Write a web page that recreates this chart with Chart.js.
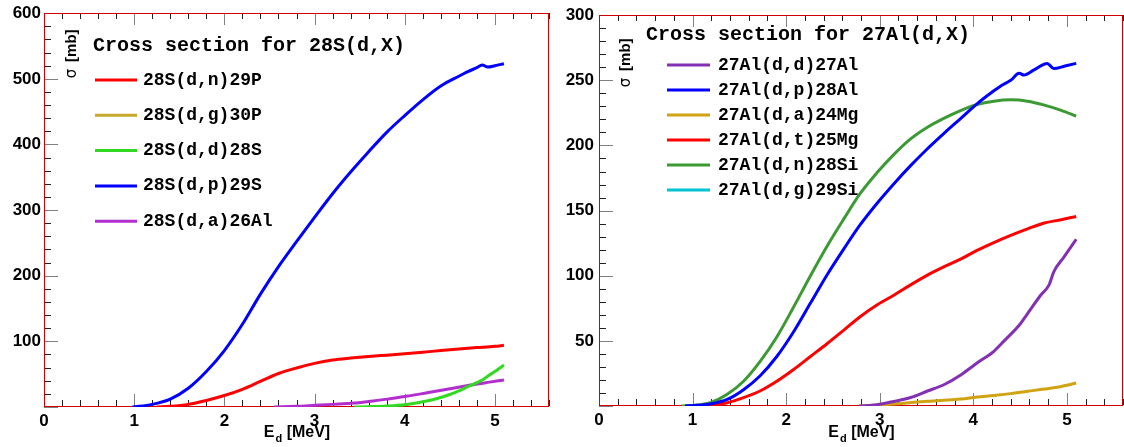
<!DOCTYPE html>
<html>
<head>
<meta charset="utf-8">
<script src="https://cdn.jsdelivr.net/npm/chart.js@4.4.1/dist/chart.umd.min.js"></script>
<style>
  html, body { margin: 0; padding: 0; background: #ffffff; }
  #wrap { position: relative; width: 1124px; height: 447px; overflow: hidden; }
  #c1 { position: absolute; left: 0; top: 0; }
  #c2 { position: absolute; left: 556px; top: 0; }
</style>
</head>
<body>
<div id="wrap">
  <canvas id="c1" width="556" height="447"></canvas>
  <canvas id="c2" width="568" height="447"></canvas>
</div>
<script>
// ---------- shared axis data ----------
const xTickValues = [0, 1, 2, 3, 4, 5];          // E_d [MeV]
const E_MIN = 0, E_MAX = 5.6;

// ---------- 28S + d ----------
const s28Title  = 'Cross section for 28S(d,X)';
const s28Labels = ['28S(d,n)29P', '28S(d,g)30P', '28S(d,d)28S', '28S(d,p)29S', '28S(d,a)26Al'];
const s28Colors = ['#ff0000', '#c6a82a', '#33d822', '#0000ff', '#b22ecf'];
const s28YTicks = [100, 200, 300, 400, 500, 600];

const s28_dn_E   = [1.25, 1.4, 1.6, 1.8, 2.0, 2.2, 2.4, 2.6, 2.8, 3.0, 3.2, 3.4, 3.6, 3.8, 4.0, 4.2, 4.4, 4.6, 4.8, 5.0, 5.1];
const s28_dn_sig = [0, 1, 4, 10, 17.5, 27, 39, 51, 59.5, 66.5, 71.5, 74.5, 77, 79, 81, 83.5, 86, 88.5, 90.5, 92.5, 94];

const s28_dg_E   = [];
const s28_dg_sig = [];

const s28_dd_E   = [3.44, 3.6, 3.8, 4.0, 4.2, 4.36, 4.5, 4.6, 4.7, 4.8, 4.86, 4.92, 5.0, 5.1];
const s28_dd_sig = [0, 0.5, 1.5, 3.5, 8, 13, 19, 24.5, 31, 37, 41, 47, 54, 64];

const s28_dp_E   = [0.98, 1.2, 1.4, 1.6, 1.8, 2.0, 2.2, 2.4, 2.6, 2.8, 3.0, 3.2, 3.4, 3.6, 3.8, 4.0, 4.2, 4.4, 4.6, 4.7, 4.8, 4.86, 4.92, 5.0, 5.1];
const s28_dp_sig = [0, 4, 12, 28.5, 54, 86, 126, 172, 214, 252, 289, 325, 358, 389, 418.5, 444, 468, 489, 504, 511, 517, 521, 518, 520, 523];

const s28_da_E   = [2.55, 2.8, 3.0, 3.2, 3.44, 3.6, 3.81, 4.0, 4.18, 4.36, 4.55, 4.73, 4.92, 5.1];
const s28_da_sig = [0, 1, 2.5, 4, 6, 8.5, 12, 16, 20, 24.5, 29, 33.5, 37.5, 41];

// ---------- 27Al + d ----------
const al27Title  = 'Cross section for 27Al(d,X)';
const al27Labels = ['27Al(d,d)27Al', '27Al(d,p)28Al', '27Al(d,a)24Mg', '27Al(d,t)25Mg', '27Al(d,n)28Si', '27Al(d,g)29Si'];
const al27Colors = ['#8430b4', '#0000ff', '#cfa312', '#ff0000', '#3c9a34', '#00c4d0'];
const al27YTicks = [50, 100, 150, 200, 250, 300];

const al_dd_E   = [2.78, 2.97, 3.15, 3.33, 3.51, 3.69, 3.87, 4.04, 4.22, 4.33, 4.49, 4.58, 4.72, 4.81, 4.86, 4.97, 5.1];
const al_dd_sig = [0, 1, 3.5, 6.5, 11.5, 16.5, 24, 33, 42, 50, 62, 71, 85, 93, 103, 114.5, 128];

const al_dp_E   = [0.92, 1.05, 1.19, 1.37, 1.545, 1.72, 1.9, 2.08, 2.26, 2.44, 2.62, 2.79, 2.97, 3.15, 3.33, 3.51, 3.69, 3.87, 4.04, 4.22, 4.29, 4.4, 4.49, 4.54, 4.65, 4.79, 4.86, 4.98, 5.1];
const al_dp_sig = [0, 0.5, 1.5, 5, 12.5, 23, 38, 57, 79, 101, 121, 139, 155.5, 170.5, 184.5, 197.5, 209.5, 221, 232, 242, 245.5, 250, 255.5, 254, 258, 263, 259, 261, 263];

const al_da_E   = [2.78, 3.15, 3.51, 3.87, 4.04, 4.22, 4.4, 4.58, 4.76, 4.94, 5.1];
const al_da_sig = [0, 1.5, 3.6, 5.3, 6.9, 8, 9.5, 11.3, 13, 15, 17.6];

const al_dt_E   = [1.0, 1.2, 1.37, 1.545, 1.72, 1.9, 2.08, 2.26, 2.44, 2.62, 2.79, 2.97, 3.15, 3.33, 3.51, 3.69, 3.87, 4.04, 4.22, 4.4, 4.58, 4.76, 4.94, 5.1];
const al_dt_sig = [0, 1, 2.5, 6.4, 11.5, 19, 28, 38, 48, 58.5, 68.5, 77.5, 85, 93, 100.5, 107, 113, 119.5, 125.5, 131, 136, 140.5, 143, 145.5];

const al_dn_E   = [0.88, 1.05, 1.19, 1.37, 1.545, 1.72, 1.9, 2.08, 2.26, 2.44, 2.62, 2.79, 2.97, 3.15, 3.33, 3.51, 3.69, 3.87, 4.04, 4.22, 4.4, 4.58, 4.76, 4.94, 5.1];
const al_dn_sig = [0, 0.8, 2.5, 9, 19, 34, 53, 76, 100, 123, 144, 163, 179, 193, 205, 214, 221, 227, 231.5, 234, 235, 234, 231, 227, 222.5];

const al_dg_E   = [];
const al_dg_sig = [];

// ---------- helpers ----------
function pairs(xs, ys) { return xs.map((x, i) => ({ x: x, y: ys[i] })); }

function makeDatasets(labels, colors, series) {
  return labels.map((lab, i) => ({
    label: lab,
    data: pairs(series[i][0], series[i][1]),
    borderColor: colors[i],
    backgroundColor: colors[i],
    borderWidth: 3,
    pointRadius: 0,
    pointHoverRadius: 0,
    fill: false,
    cubicInterpolationMode: 'monotone',
    borderCapStyle: 'butt'
  }));
}

// ROOT-style decoration: inward ticks (bottom/top/left), thin frame, legend box and axis titles
function rootDecor(o) {
  function drawTicks(chart) {
    const ctx = chart.ctx, a = chart.chartArea;
    const xs = chart.scales.x, ys = chart.scales.y;
    const L = Math.round(a.left), T = Math.round(a.top), B = Math.round(a.bottom) - 1;
    ctx.save();
    const nx = Math.round((E_MAX - E_MIN) / o.xMinor);
    for (let i = 0; i <= nx; i++) {
      const v = E_MIN + i * o.xMinor;
      const major = Math.abs(v - Math.round(v)) < 1e-6;
      const px = Math.round(xs.getPixelForValue(v));
      const len = major ? o.xMajorLen : o.xMinorLen;
      ctx.fillStyle = major ? o.majorColor : o.minorColor;
      ctx.fillRect(px, B - len, 1, len);
      ctx.fillRect(px, T, 1, len);
    }
    const ny = Math.round(o.yMax / o.yMinor);
    for (let i = 0; i <= ny; i++) {
      const v = i * o.yMinor;
      const major = Math.abs(v / o.yMajor - Math.round(v / o.yMajor)) < 1e-6;
      const py = Math.round(ys.getPixelForValue(v));
      const len = major ? o.yMajorLen : o.yMinorLen;
      ctx.fillStyle = major ? o.majorColor : o.minorColor;
      ctx.fillRect(L, py, len, 1);
    }
    ctx.restore();
  }
  function drawFrame(chart) {
    const ctx = chart.ctx, a = chart.chartArea;
    const L = Math.round(a.left), R = Math.round(a.right) - 1;
    const T = Math.round(a.top), B = Math.round(a.bottom) - 1;
    ctx.save();
    ctx.fillStyle = o.frameColor;
    ctx.fillRect(L, T, R - L + 1, 1);
    ctx.fillRect(L, B, R - L + 1, 1);
    ctx.fillRect(L, T, 1, B - T + 1);
    ctx.fillRect(R, T, 1, B - T + 1);
    ctx.restore();
  }
  return {
    id: 'rootDecor',
    beforeDatasetsDraw(chart) {
      drawTicks(chart);
      drawFrame(chart);
    },
    afterDraw(chart) {
      const ctx = chart.ctx, a = chart.chartArea;
      ctx.save();
      ctx.fillStyle = '#000';
      ctx.textAlign = 'left';
      ctx.textBaseline = 'middle';
      // legend
      ctx.font = o.titleFont;
      ctx.fillText(o.title, o.titleX, o.titleY);
      chart.data.datasets.forEach((ds, i) => {
        const y = o.rowY0 + i * o.rowGap;
        ctx.strokeStyle = ds.borderColor;
        ctx.lineWidth = 3;
        ctx.beginPath();
        ctx.moveTo(o.lineX0, y); ctx.lineTo(o.lineX1, y);
        ctx.stroke();
        ctx.font = o.entryFont;
        ctx.fillText(ds.label, o.textX, y);
      });
      // x title: E_d [MeV]
      ctx.textBaseline = 'alphabetic';
      const big = 'bold 16px "Liberation Sans", Arial, sans-serif';
      const small = 'bold 11px "Liberation Sans", Arial, sans-serif';
      ctx.font = big;   const wE = ctx.measureText('E').width;
      ctx.font = small; const wd = ctx.measureText('d').width;
      ctx.font = big;   const wU = ctx.measureText(' [MeV]').width;
      const x0 = (a.left + a.right) / 2 - (wE + wd + wU) / 2;
      ctx.fillText('E', x0, o.xTitleY);
      ctx.font = small; ctx.fillText('d', x0 + wE + 1, o.xTitleY + 5);
      ctx.font = big;   ctx.fillText(' [MeV]', x0 + wE + wd + 1, o.xTitleY);
      // y title: σ [mb], rotated, inside the frame
      ctx.translate(a.left + o.yTitleDX, a.top + o.yTitleDY);
      ctx.rotate(-Math.PI / 2);
      ctx.font = '15px "DejaVu Sans", sans-serif';
      ctx.fillText('σ', 0, 0);
      const ws = ctx.measureText('σ ').width;
      ctx.font = 'bold 15px "Liberation Sans", Arial, sans-serif';
      ctx.fillText('[mb]', ws + 2, 0);
      ctx.restore();
    }
  };
}

function makeChart(canvasId, datasets, yMax, yTicks, yAxisWidth, xAxisHeight, padRight, labelPad, decor) {
  const tickFont = { family: '"Liberation Sans", Arial, sans-serif', size: 17, weight: 'bold' };
  return new Chart(document.getElementById(canvasId), {
    type: 'line',
    data: { datasets: datasets },
    options: {
      responsive: false,
      animation: false,
      events: [],
      layout: { padding: { top: 12, right: padRight, left: 0, bottom: 0 } },
      scales: {
        x: {
          type: 'linear', min: E_MIN, max: E_MAX,
          grid: { display: false, drawTicks: false },
          border: { display: false },
          afterBuildTicks: s => { s.ticks = xTickValues.map(v => ({ value: v })); },
          afterFit: s => { s.height = xAxisHeight; },
          ticks: { color: '#000', font: tickFont, padding: 4, maxRotation: 0, autoSkip: false,
                   callback: v => String(v) }
        },
        y: {
          type: 'linear', min: 0, max: yMax,
          grid: { display: false, drawTicks: false },
          border: { display: false },
          afterBuildTicks: s => { s.ticks = yTicks.map(v => ({ value: v })); },
          afterFit: s => { s.width = yAxisWidth; },
          ticks: { color: '#000', font: tickFont, padding: labelPad, autoSkip: false,
                   callback: v => String(v) }
        }
      },
      plugins: { legend: { display: false }, tooltip: { enabled: false } }
    },
    plugins: [rootDecor(Object.assign({ yMax: yMax }, decor))]
  });
}

const commonDecor = {
  xMinor: 0.2, xMajorLen: 12, xMinorLen: 6,
  yMajorLen: 14, yMinorLen: 7,
  majorColor: '#808080', minorColor: '#202020', frameColor: '#d00000',
  titleFont: 'bold 20px "Liberation Mono", "Courier New", monospace',
  entryFont: 'bold 18px "Liberation Mono", "Courier New", monospace',
  xTitleY: 437
};

makeChart('c1',
  makeDatasets(s28Labels, s28Colors, [
    [s28_dn_E, s28_dn_sig], [s28_dg_E, s28_dg_sig], [s28_dd_E, s28_dd_sig],
    [s28_dp_E, s28_dp_sig], [s28_da_E, s28_da_sig]
  ]),
  600, s28YTicks, 44, 40, 7, 3,
  Object.assign({}, commonDecor, {
    yMinor: 20, yMajor: 100,
    title: s28Title, titleX: 93, titleY: 46,
    rowY0: 80, rowGap: 35.3, lineX0: 95, lineX1: 137, textX: 143,
    yTitleDX: 32, yTitleDY: 65
  }));

makeChart('c2',
  makeDatasets(al27Labels, al27Colors, [
    [al_dd_E, al_dd_sig], [al_dp_E, al_dp_sig], [al_da_E, al_da_sig],
    [al_dt_E, al_dt_sig], [al_dn_E, al_dn_sig], [al_dg_E, al_dg_sig]
  ]),
  300, al27YTicks, 43, 41, 1, 5,
  Object.assign({}, commonDecor, {
    yMinor: 10, yMajor: 50,
    title: al27Title, titleX: 90, titleY: 35,
    rowY0: 65, rowGap: 25, lineX0: 111, lineX1: 154, textX: 162,
    yTitleDX: 31, yTitleDY: 72
  }));
</script>
</body>
</html>
